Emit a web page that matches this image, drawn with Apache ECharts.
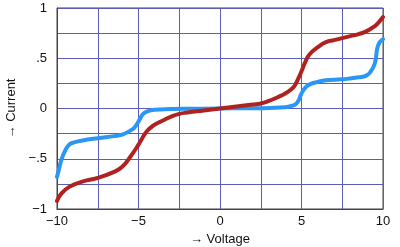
<!DOCTYPE html>
<html><head><meta charset="utf-8">
<script src="https://cdn.jsdelivr.net/npm/echarts@6/dist/echarts.min.js"></script>
<style>html,body{margin:0;padding:0;background:#fff}#c{width:400px;height:247px}</style>
</head><body><div id="c"></div>
<script>
var redX = [-10,-9.75,-9.25,-8.5,-7.5,-6.5,-6,-5.5,-5,-4.5,-4,-3.5,-3,-2.5,-2,-1,0,1,2,2.5,3,3.5,4,4.5,4.75,5,5.25,5.5,6,6.5,7,7.5,8,8.5,9,9.5,9.75,10];
var redY = [-0.92,-0.85,-0.78,-0.73,-0.69,-0.63,-0.58,-0.48,-0.36,-0.23,-0.16,-0.12,-0.08,-0.053,-0.04,-0.02,0,0.02,0.04,0.05,0.075,0.11,0.15,0.21,0.28,0.37,0.47,0.54,0.61,0.66,0.68,0.70,0.72,0.74,0.77,0.82,0.86,0.91];
var blueX = [-10,-9.9,-9.75,-9.5,-9.25,-9,-8.5,-7.5,-6.5,-6,-5.5,-5.25,-5,-4.75,-4.5,-4,-3,-2,0,2,3,4,4.5,4.75,5,5.25,5.5,6,6.5,7.5,8.5,9,9.25,9.5,9.65,9.8,10];
var blueY = [-0.68,-0.62,-0.52,-0.42,-0.36,-0.34,-0.32,-0.295,-0.275,-0.26,-0.22,-0.19,-0.13,-0.06,-0.03,-0.012,-0.006,-0.003,0,0.003,0.006,0.012,0.03,0.06,0.15,0.21,0.24,0.265,0.28,0.29,0.31,0.33,0.37,0.45,0.6,0.66,0.69];
var xTicks = {'-10':'\u221210','-5':'\u22125','0':'0','5':'5','10':'10'};
var yTicks = {'-1':'\u22121','-0.5':'\u2212.5','0':'0','0.5':'.5','1':'1'};
function pairs(xs, ys){ return xs.map(function(x,i){return [x, ys[i]];}); }
var font = 'Liberation Sans, Arial, sans-serif';
var gridLine = {show:true, lineStyle:{color:'#5b5bb8', width:1}};
var chart = echarts.init(document.getElementById('c'), null, {renderer:'canvas'});
chart.setOption({
  animation:false,
  grid:{left:57, right:17, top:8, bottom:38, show:true, borderColor:'#444', borderWidth:1, backgroundColor:'#fff',
        containLabel:false, outerBoundsMode:'none'},
  xAxis:{type:'value', min:-10, max:10, interval:5,
    name:'\u2192 Voltage', nameLocation:'middle', nameGap:23,
    nameTextStyle:{fontFamily:font, fontSize:13, color:'#111'},
    axisLine:{show:true, onZero:false, lineStyle:{color:'#444'}}, axisTick:{show:false},
    axisLabel:{fontFamily:font, fontSize:13, color:'#111', margin:6, formatter:function(v){return xTicks[String(v)];}},
    splitLine:gridLine, minorTick:{show:false, splitNumber:2}, minorSplitLine:gridLine},
  yAxis:{type:'value', min:-1, max:1, interval:0.5,
    name:'\u2192 Current', nameLocation:'middle', nameGap:37,
    nameTextStyle:{fontFamily:font, fontSize:13, color:'#111'},
    axisLine:{show:true, onZero:false, lineStyle:{color:'#444'}}, axisTick:{show:false},
    axisLabel:{fontFamily:font, fontSize:13, color:'#111', margin:10, formatter:function(v){return yTicks[String(v)];}},
    splitLine:gridLine, minorTick:{show:false, splitNumber:2}, minorSplitLine:gridLine},
  series:[
    {type:'line', data:pairs(blueX, blueY), showSymbol:false, smooth:0.5,
     lineStyle:{color:'#2a96f5', width:4, cap:'round', join:'round'}, z:3},
    {type:'line', data:pairs(redX, redY), showSymbol:false, smooth:0.5,
     lineStyle:{color:'#b0221f', width:4, cap:'round', join:'round'}, z:4}
  ]
});
</script></body></html>
